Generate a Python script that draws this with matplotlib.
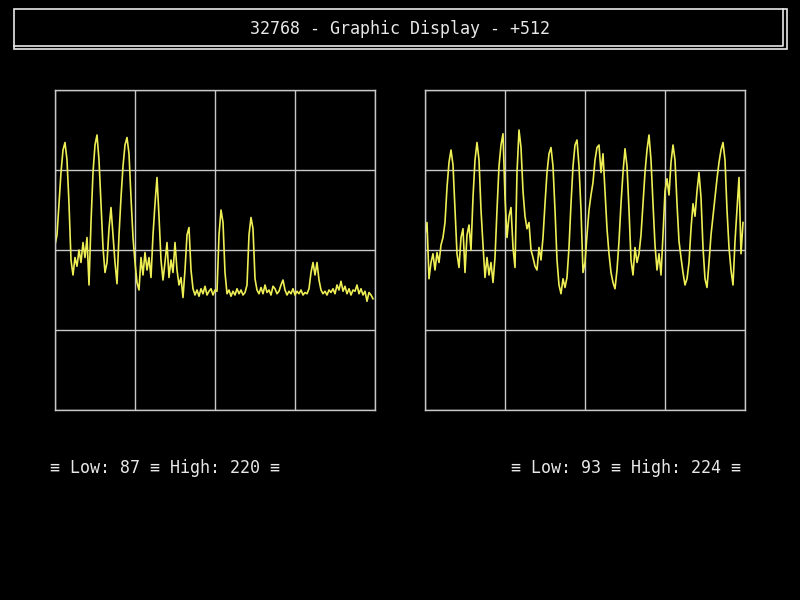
import numpy as np
import matplotlib
matplotlib.use('Agg')
import matplotlib.pyplot as plt
from matplotlib.patches import Rectangle
from matplotlib.lines import Line2D

title = '32768 - Graphic Display - +512'

# samples, 0..255 scale
left_vals = [132, 140, 165, 190, 208, 214, 200, 165, 120, 108,
             122, 115, 128, 118, 134, 122, 138, 100, 150, 190,
             212, 220, 200, 165, 130, 110, 118, 145, 162, 140,
             118, 101, 140, 170, 195, 212, 218, 205, 170, 138,
             118, 102, 96, 122, 108, 126, 112, 122, 106, 140,
             165, 186, 155, 120, 104, 118, 134, 106, 120, 110,
             134, 112, 100, 106, 90, 112, 140, 146, 112, 97,
             92, 96, 91, 97, 93, 99, 92, 95, 97, 92,
             96, 95, 140, 160, 150, 110, 93, 96, 91, 95,
             92, 97, 93, 96, 92, 94, 100, 140, 154, 145,
             105, 96, 93, 98, 93, 100, 94, 96, 92, 99,
             97, 93, 95, 100, 104, 96, 92, 95, 93, 97,
             92, 95, 93, 96, 92, 94, 93, 97, 110, 118,
             108, 118, 104, 96, 93, 95, 92, 96, 94, 97,
             93, 100, 96, 103, 95, 99, 93, 97, 92, 96,
             95, 100, 93, 97, 92, 95, 87, 94, 92, 89]

right_vals = [140, 150, 105, 118, 125, 112, 126, 118, 132, 138,
              150, 178, 198, 208, 196, 160, 125, 114, 138, 145,
              110, 140, 148, 128, 170, 200, 214, 200, 160, 132,
              106, 122, 108, 118, 102, 122, 160, 195, 212, 221,
              170, 138, 155, 162, 130, 114, 190, 224, 210, 175,
              155, 145, 150, 128, 122, 115, 112, 130, 120, 138,
              165, 190, 205, 210, 195, 160, 120, 100, 93, 105,
              98, 106, 130, 165, 195, 212, 216, 195, 160, 110,
              118, 140, 160, 172, 182, 200, 210, 212, 190, 205,
              175, 145, 125, 110, 102, 97, 112, 135, 165, 190,
              209, 195, 160, 120, 108, 130, 118, 125, 140, 165,
              190, 208, 220, 200, 165, 132, 112, 125, 108, 140,
              175, 185, 172, 198, 212, 200, 165, 135, 122, 110,
              100, 105, 118, 145, 165, 155, 175, 190, 170, 130,
              105, 98, 118, 140, 155, 170, 185, 198, 208, 214,
              200, 160, 130, 112, 100, 135, 160, 186, 125, 150]

W, H = 800, 600
fig = plt.figure(figsize=(8, 6), dpi=100, facecolor='black')

def fx(x):
    return x / W

def fy(y):
    return 1 - y / H

font = ['DejaVu Sans Mono', 'DejaVu Sans']
txt_col = '#e8e8e8'
grid_col = '#c8c8c8'
trace_col = '#eeee55'

# title box: outer frame plus inner line on right and bottom
fig.patches.append(Rectangle((fx(14), fy(49)), 773 / W, 40 / H, transform=fig.transFigure,
                             fill=False, edgecolor=txt_col, linewidth=1.2))
fig.lines.append(Line2D([fx(14), fx(783), fx(783)], [fy(46), fy(46), fy(9)],
                        transform=fig.transFigure, color=txt_col, linewidth=1.2))
fig.text(fx(400), fy(29), title, color=txt_col, fontsize=12, family=font,
         ha='center', va='center')

def panel(x0, vals):
    ax = fig.add_axes([fx(x0), fy(410), 320 / W, 320 / H])
    ax.set_facecolor('black')
    n = len(vals)
    ax.plot(np.arange(n), vals, color=trace_col, linewidth=1.2)
    ax.set_xlim(0, n)
    ax.set_ylim(0, 256)
    ax.set_xticks(np.linspace(0, n, 5))
    ax.set_yticks([0, 64, 128, 192, 256])
    ax.grid(True, color=grid_col, linewidth=1)
    ax.tick_params(length=0, labelbottom=False, labelleft=False)
    for s in ax.spines.values():
        s.set_color(grid_col)
        s.set_linewidth(1)
    return ax

panel(55, left_vals)
panel(425, right_vals)

lab_l = '\u2261 Low: %d \u2261 High: %d \u2261' % (min(left_vals), max(left_vals))
lab_r = '\u2261 Low: %d \u2261 High: %d \u2261' % (min(right_vals), max(right_vals))
fig.text(fx(50), fy(468), lab_l, color=txt_col, fontsize=12, family=font,
         ha='left', va='center')
fig.text(fx(741), fy(468), lab_r, color=txt_col, fontsize=12, family=font,
         ha='right', va='center')

fig.savefig('out.png', dpi=100, facecolor='black')
